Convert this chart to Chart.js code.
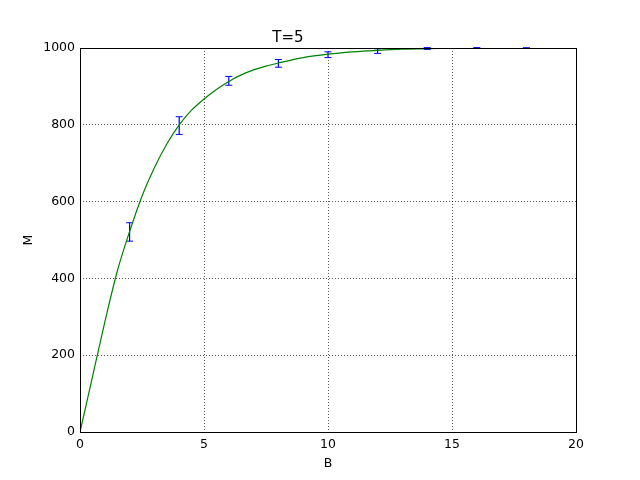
<!DOCTYPE html>
<html>
<head>
<meta charset="utf-8">
<script src="https://cdn.jsdelivr.net/npm/chart.js@4/dist/chart.umd.min.js"></script>
<style>
  html, body { margin: 0; padding: 0; background: #fff; }
  #wrap { width: 640px; height: 480px; }
</style>
</head>
<body>
<div id="wrap"><canvas id="chart" width="640" height="480"></canvas></div>
<script>
// fitted curve
var curveB = [0, 0.5, 1, 1.5, 2, 2.5, 3, 3.5, 4, 4.5, 5, 5.5, 6, 6.5, 7, 7.5, 8, 9, 10, 11, 12, 13, 14, 15, 16, 17, 18, 19, 20];
var curveM = [0, 143, 286, 418, 522, 614, 688, 750, 800, 838, 867, 892, 913, 930, 943, 953, 961, 975, 984, 990, 994, 997, 998.5, 999.3, 999.7, 999.9, 1000, 1000, 1000];

// measured points with error bars
var errB = [2, 4, 6, 8, 10, 12, 14, 16, 18];
var errLow = [497, 775, 903, 950, 975, 986, 996, 999, 999.5];
var errHigh = [545, 821, 926, 970, 990, 998, 1001, 1001, 1000.5];

var xTicks = [0, 5, 10, 15, 20];
var yTicks = [0, 200, 400, 600, 800, 1000];

var curveData = curveB.map(function (b, i) { return {x: b, y: curveM[i]}; });
var errData = [];
for (var i = 0; i < errB.length; i++) {
  errData.push({x: errB[i], y: errLow[i]});
  errData.push({x: errB[i], y: errHigh[i]});
  errData.push({x: errB[i], y: null});
}

var FONT = "'DejaVu Sans', sans-serif";

var frame = {
  id: 'frame',
  afterDatasetsDraw: function (chart) {
    var a = chart.chartArea, ctx = chart.ctx;
    ctx.save();
    ctx.strokeStyle = '#000';
    ctx.lineWidth = 1;
    ctx.strokeRect(Math.round(a.left) + 0.5, Math.round(a.top) + 0.5,
      Math.round(a.right - a.left), Math.round(a.bottom - a.top));
    ctx.restore();
  }
};

function plain(v) { return String(v); }

new Chart(document.getElementById('chart'), {
  type: 'line',
  data: {
    datasets: [
      {
        data: curveData,
        borderColor: '#008000',
        borderWidth: 1.2,
        pointRadius: 0,
        cubicInterpolationMode: 'monotone',
        fill: false
      },
      {
        data: errData,
        borderColor: '#0000ff',
        borderWidth: 1.2,
        pointStyle: 'line',
        pointRadius: 3.5,
        pointBorderWidth: 1,
        pointBorderColor: '#0000ff',
        spanGaps: false,
        clip: 3,
        fill: false
      }
    ]
  },
  options: {
    responsive: false,
    animation: false,
    events: [],
    layout: { padding: { top: 0, right: 64, bottom: 0, left: 0 } },
    plugins: {
      legend: { display: false },
      tooltip: { enabled: false },
      title: {
        display: true,
        text: 'T=5',
        color: '#000',
        font: { family: FONT, size: 15, weight: 'normal' },
        padding: { top: 29, bottom: 1 }
      }
    },
    scales: {
      x: {
        type: 'linear',
        min: 0, max: 20,
        afterFit: function (s) { s.height = 48; },
        afterBuildTicks: function (s) { s.ticks = xTicks.map(function (v) { return {value: v}; }); },
        border: { display: false, dash: [1, 2] },
        grid: { color: 'rgba(0,0,0,0.65)', lineWidth: 1, drawTicks: false },
        ticks: { color: '#000', font: { family: FONT, size: 12.5 }, padding: 5, maxRotation: 0, callback: plain },
        title: { display: true, text: 'B', color: '#000', font: { family: FONT, size: 12.5 }, padding: { top: 0, bottom: 9 } }
      },
      y: {
        type: 'linear',
        min: 0, max: 1000,
        afterFit: function (s) { s.width = 80; },
        afterBuildTicks: function (s) { s.ticks = yTicks.map(function (v) { return {value: v}; }); },
        border: { display: false, dash: [1, 2] },
        grid: { color: 'rgba(0,0,0,0.65)', lineWidth: 1, drawTicks: false },
        ticks: { color: '#000', font: { family: FONT, size: 12.5 }, padding: 5, callback: plain },
        title: { display: true, text: 'M', color: '#000', font: { family: FONT, size: 12.5 }, padding: { top: 21, bottom: 0 } }
      }
    }
  },
  plugins: [frame]
});
</script>
</body>
</html>
